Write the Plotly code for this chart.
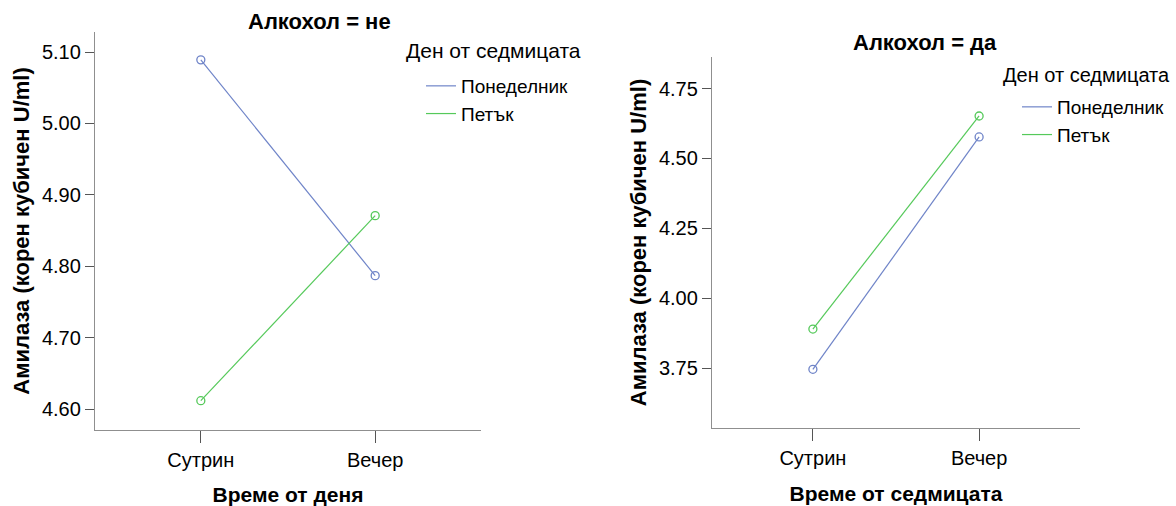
import plotly.graph_objects as go

categories = ["Сутрин", "Вечер"]
series_names = ["Понеделник", "Петък"]
no_alcohol_mon = [5.089, 4.787]
no_alcohol_fri = [4.612, 4.871]
alcohol_mon = [3.746, 4.577]
alcohol_fri = [3.890, 4.652]
left_title = "Алкохол = не"
right_title = "Алкохол = да"
legend_title = "Ден от седмицата"
y_title = "Амилаза (корен кубичен U/ml)"
left_x_title = "Време от деня"
right_x_title = "Време от седмицата"

BLUE = "#6f84c8"
GREEN = "#55c95a"
FONT = "Liberation Sans, Arial, sans-serif"
W, H = 1176, 506

fig = go.Figure()

def add_panel(xa, ya, leg, mon, fri):
    for name, vals, col in [(series_names[0], mon, BLUE), (series_names[1], fri, GREEN)]:
        fig.add_trace(go.Scatter(
            x=[0, 1], y=vals, mode="lines+markers", xaxis=xa, yaxis=ya,
            line=dict(color=col, width=1.2),
            marker=dict(symbol="circle-open", size=8, color=col, line=dict(width=1.3)),
            showlegend=False, hoverinfo="skip"))
        fig.add_trace(go.Scatter(
            x=[None], y=[None], mode="lines", xaxis=xa, yaxis=ya, name=name,
            line=dict(color=col, width=1.2), legend=leg, showlegend=True))

add_panel("x", "y", "legend", no_alcohol_mon, no_alcohol_fri)
add_panel("x2", "y2", "legend2", alcohol_mon, alcohol_fri)

def px(x):
    return x / W

def py(y):
    return 1 - y / H

axis_common = dict(showgrid=False, zeroline=False, showline=True, linecolor="#8f8f8f",
                   linewidth=1.3, ticks="outside", tickcolor="#555555", tickwidth=1.3,
                   tickfont=dict(family=FONT, size=20, color="#000"))

xcommon = dict(axis_common, tickvals=[0, 1], ticktext=categories, range=[-0.607, 1.607],
               ticklen=12, title_font=dict(family=FONT, size=21, color="#000"))

ytitle_font = dict(family=FONT, size=22, color="#000")

fig.update_layout(
    width=W, height=H, margin=dict(l=0, r=0, t=0, b=0),
    plot_bgcolor="white", paper_bgcolor="white",
    font=dict(family=FONT, color="#000"),
    xaxis=dict(xcommon, domain=[px(95), px(481)], anchor="y",
               title=dict(text="<b>" + left_x_title + "</b>", standoff=20)),
    yaxis=dict(axis_common, domain=[py(430), py(32)], anchor="x", range=[4.571, 5.128],
               tick0=4.6, dtick=0.1, tickformat=".2f", ticklen=9,
               title=dict(text="<b>" + y_title + "</b>", standoff=6, font=ytitle_font)),
    xaxis2=dict(xcommon, domain=[px(712), px(1080)], anchor="y2",
                title=dict(text="<b>" + right_x_title + "</b>", standoff=18)),
    yaxis2=dict(axis_common, domain=[py(428), py(57)], anchor="x2", range=[3.536, 4.863],
                tick0=3.75, dtick=0.25, tickformat=".2f", ticklen=9,
                title=dict(text="<b>" + y_title + "</b>", standoff=6, font=ytitle_font)),
    legend=dict(x=px(421), y=py(67), xanchor="left", yanchor="top",
                font=dict(family=FONT, size=19), bgcolor="rgba(0,0,0,0)",
                itemwidth=30, tracegroupgap=0),
    legend2=dict(x=px(1017), y=py(88), xanchor="left", yanchor="top",
                 font=dict(family=FONT, size=19), bgcolor="rgba(0,0,0,0)",
                 itemwidth=30, tracegroupgap=0),
    annotations=[
        dict(text="<b>" + left_title + "</b>", x=px(319), y=py(22), xref="paper", yref="paper",
             xanchor="center", yanchor="middle", showarrow=False,
             font=dict(family=FONT, size=22, color="#000")),
        dict(text="<b>" + right_title + "</b>", x=px(925), y=py(43), xref="paper", yref="paper",
             xanchor="center", yanchor="middle", showarrow=False,
             font=dict(family=FONT, size=22, color="#000")),
        dict(text=legend_title, x=px(404), y=py(51), xref="paper", yref="paper",
             xanchor="left", yanchor="middle", showarrow=False,
             font=dict(family=FONT, size=21, color="#000")),
        dict(text=legend_title, x=px(1001), y=py(75), xref="paper", yref="paper",
             xanchor="left", yanchor="middle", showarrow=False,
             font=dict(family=FONT, size=20, color="#000")),
    ],
)

fig.write_html("out.html")
